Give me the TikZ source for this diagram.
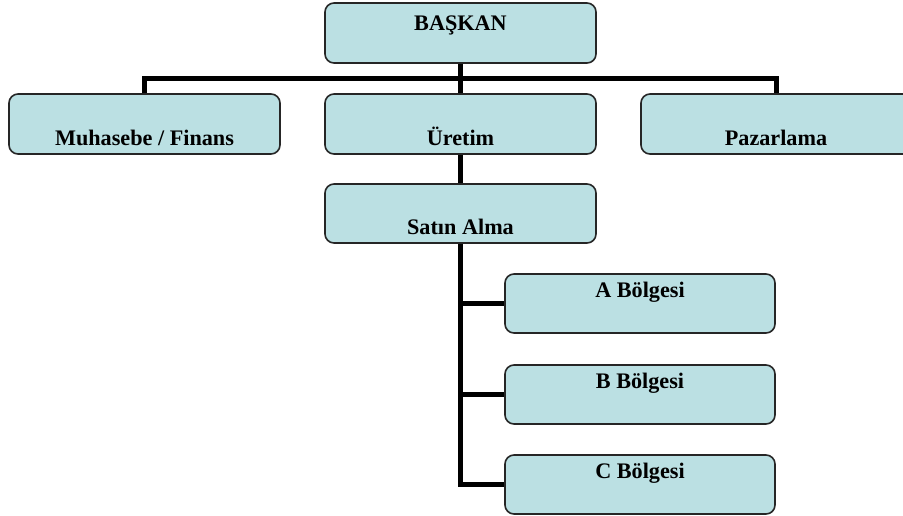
\documentclass[tikz,border=0pt]{standalone}
\usepackage{fontspec}
\setmainfont{Liberation Serif}
\begin{document}
\begin{tikzpicture}[x=1pt,y=-1pt,
  unitbox/.style={draw=black!85, line width=1.6pt, fill=boxfill, rounded corners=9pt,
    rectangle, inner sep=0pt, minimum width=271pt, minimum height=#1},
  unitbox/.default=60pt,
  unitlabel/.style={font=\fontsize{22.2}{24}\selectfont\bfseries, anchor=base, inner sep=0pt},
  link/.style={line width=5pt, line join=miter, line cap=butt}]
\definecolor{boxfill}{RGB}{187,224,227}
\useasboundingbox (0,0) rectangle (903,515);
\begin{scope}
\clip (0,0) rectangle (903,515);
% organisation units
\node[unitbox] (bk) at (460.5,33) {};
\node[unitbox] (mf) at (144.5,124) {};
\node[unitbox] (ur) at (460.5,124) {};
\node[unitbox] (pz) at (776.5,124) {};
\node[unitbox=59pt] (sa) at (460.5,213.5) {};
\node[unitbox=59pt, minimum width=270pt] (ba) at (640,303.5) {};
\node[unitbox=59pt, minimum width=270pt] (bb) at (640,394.5) {};
\node[unitbox=59pt, minimum width=270pt] (bc) at (640,484.5) {};
% branching points of the tree
\coordinate (hub) at (460.5,78.5);
% connectors
\draw[link] (mf.north) |- (hub) -| (pz.north);
\draw[link] (bk.south) -- (ur.north);
\draw[link] (ur.south) -- (sa.north);
\draw[link] (sa.south) |- (bc.west);
\draw[link] (sa.south |- ba.west) -- (ba.west);
\draw[link] (sa.south |- bb.west) -- (bb.west);
% labels
\node[unitlabel] (baskan) at (460.5,30) {BAŞKAN};
\node[unitlabel] (muhasebe) at (144.5,145) {Muhasebe / Finans};
\node[unitlabel] (uretim) at (460.5,145) {Üretim};
\node[unitlabel] (pazarlama) at (776,145) {Pazarlama};
\node[unitlabel] (satin) at (460.5,234) {Satın Alma};
\node[unitlabel] (abol) at (640,297) {A Bölgesi};
\node[unitlabel] (bbol) at (640,388) {B Bölgesi};
\node[unitlabel] (cbol) at (640,478) {C Bölgesi};
\end{scope}
\end{tikzpicture}
\end{document}
